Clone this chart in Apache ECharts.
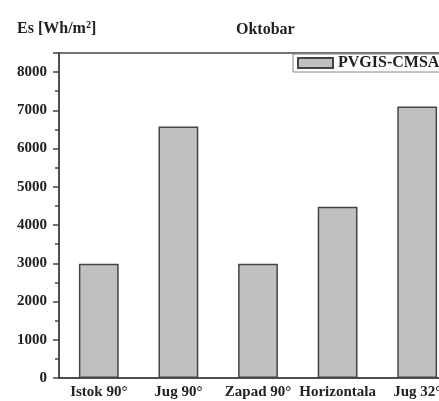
<!DOCTYPE html>
<html>
<head>
<meta charset="utf-8">
<script src="https://cdn.jsdelivr.net/npm/echarts@6/dist/echarts.min.js"></script>
<style>
  html, body { margin: 0; padding: 0; background: #fff; }
  #chart { width: 439px; height: 401px; }
</style>
</head>
<body>
<div id="chart"></div>
<script>
var categories = ['Istok 90°', 'Jug 90°', 'Zapad 90°', 'Horizontala', 'Jug 32°'];
var energy = [2990, 6580, 2990, 4480, 7100];
var seriesName = 'PVGIS-CMSA';

var font = 'Liberation Serif';
var axisColor = '#444';

var chart = echarts.init(document.getElementById('chart'));
chart.setOption({
    animation: false,
    title: [{
        text: 'Oktobar',
        left: 231,
        top: 17,
        textStyle: {fontFamily: font, fontWeight: 'bold', fontSize: 16, color: '#222'}
    }, {
        text: '{a|Es [Wh/m}{s|2}{a|]}',
        left: 12,
        top: 15,
        textStyle: {
            rich: {
                a: {fontFamily: font, fontWeight: 'bold', fontSize: 16, color: '#222'},
                s: {fontFamily: font, fontWeight: 'bold', fontSize: 10, color: '#222', verticalAlign: 'top', padding: [0, 0, 7, 0]}
            }
        }
    }],
    legend: {
        data: [seriesName],
        left: 293,
        top: 54,
        padding: [1, 20, 1, 4],
        borderColor: '#888',
        borderWidth: 1,
        icon: 'rect',
        itemWidth: 35,
        itemHeight: 10,
        itemGap: 4,
        textStyle: {fontFamily: font, fontWeight: 'bold', fontSize: 16, color: '#222'}
    },
    grid: {
        left: 59,
        top: 53,
        width: 398,
        height: 325,
        outerBoundsMode: 'none',
        show: true,
        borderColor: axisColor,
        borderWidth: 1.5
    },
    xAxis: [{
        type: 'category',
        data: categories,
        position: 'bottom',
        axisLine: {lineStyle: {color: axisColor, width: 1.5}},
        axisTick: {alignWithLabel: true, length: 5, lineStyle: {color: axisColor, width: 1.5}},
        axisLabel: {fontFamily: font, fontWeight: 'bold', fontSize: 15, color: '#222', margin: 7, interval: 0}
    }, {
        type: 'category',
        data: categories,
        position: 'bottom',
        axisLine: {show: false},
        axisTick: {length: 3, lineStyle: {color: axisColor, width: 1.5}},
        axisLabel: {show: false}
    }],
    yAxis: {
        type: 'value',
        min: 0,
        max: 8500,
        interval: 1000,
        splitLine: {show: false},
        axisLine: {show: true, lineStyle: {color: axisColor, width: 1.5}},
        axisTick: {show: true, length: 6, lineStyle: {color: axisColor, width: 1.5}},
        minorTick: {show: true, splitNumber: 2, length: 4, lineStyle: {color: axisColor, width: 1.5}},
        axisLabel: {fontFamily: font, fontWeight: 'bold', fontSize: 15, color: '#222', margin: 12,
            formatter: function (v) { return v > 8000 ? '' : v; }}
    },
    series: [{
        name: seriesName,
        type: 'bar',
        barWidth: '50%',
        data: energy,
        itemStyle: {color: '#c0c0c0', borderColor: '#444', borderWidth: 1.5}
    }]
});
</script>
</body>
</html>
